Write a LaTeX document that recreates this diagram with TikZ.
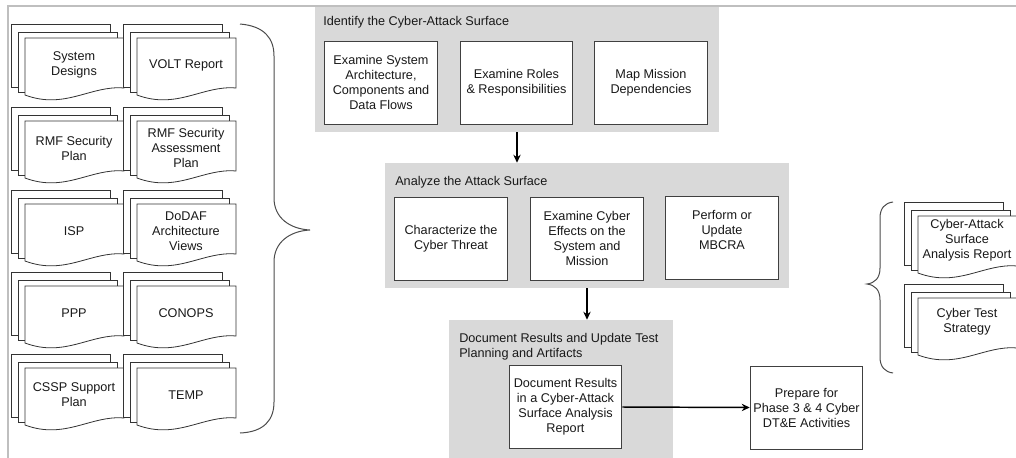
\documentclass[tikz,border=0pt]{standalone}
\usepackage{fontspec}
\setmainfont{Liberation Sans}
\usetikzlibrary{arrows.meta}

% Stack of three document sheets: #1 name of the text node, #2/#3 top-left
% corner of the rear sheet, #4 vertical offset of the text, #5 the text.
\newcommand{\docstack}[5]{%
  \draw[sheet] ({#2+7},{#3+63}) -- (#2,{#3+63}) -- (#2,#3) -- ({#2+99},#3) -- ({#2+99},{#3+8});
  \draw[sheet] ({#2+14},{#3+68}) -- ({#2+7},{#3+68}) -- ({#2+7},{#3+8}) -- ({#2+106},{#3+8}) -- ({#2+106},{#3+14});
  \draw[sheet] ({#2+14},{#3+14}) -- ({#2+113},{#3+14}) -- ({#2+113},{#3+64})
    .. controls ({#2+80},{#3+61}) and ({#2+54},{#3+86}) .. ({#2+14},{#3+71}) -- cycle;
  \node[doctext] (#1) at ({#2+63},{#3+14+#4}) {#5};
}

\begin{document}
\begin{tikzpicture}[x=0.75pt,y=-0.75pt,
  every node/.style={font=\fontsize{9.5}{11.25}\selectfont, text=black!90},
  panel/.style={fill=gray!30, draw=none, inner sep=0pt},
  stepbox/.style={draw=black!75, line width=0.75pt, fill=white,
    minimum width=84.4pt, minimum height=62.25pt, align=center, inner sep=0.5pt},
  doctext/.style={align=center, inner sep=0pt},
  sheet/.style={draw=black!80, line width=0.6pt, fill=white},
  flow/.style={draw=black, line width=1.1pt, -{Stealth[length=6pt,width=5.5pt]}},
  brace/.style={draw=black!70, line width=0.75pt},
  frameline/.style={draw=black!25, line width=1.5pt},
  paneltitle/.style={anchor=base west, inner sep=0pt}
]
\useasboundingbox (0,0) rectangle (1016,457);

% outer frame (top and left edges)
\draw[frameline] (8,458) -- (8,6) -- (1017,6);

% input documents
\docstack{designs}{11}{24}{27}{System\\Designs}
\docstack{volt}{123}{24}{27}{VOLT Report}
\docstack{rmfplan}{11}{107}{27}{RMF Security\\Plan}
\docstack{rmfassess}{123}{107}{27}{RMF Security\\Assessment\\Plan}
\docstack{isp}{11}{190}{27}{ISP}
\docstack{dodaf}{123}{190}{27}{DoDAF\\Architecture\\Views}
\docstack{ppp}{11}{272}{27}{PPP}
\docstack{conops}{123}{272}{27}{CONOPS}
\docstack{cssp}{11}{354}{27}{CSSP Support\\Plan}
\docstack{temp}{123}{354}{27}{TEMP}

% brace gathering the inputs
\draw[brace] (240,24) .. controls (264,26) and (274,38) .. (274,56) -- (274,198)
  .. controls (274,218) and (290,229) .. (310,230)
  .. controls (290,231) and (274,242) .. (274,262) -- (274,402)
  .. controls (274,420) and (264,432) .. (240,433);

% step 1
\node[panel, minimum width=303pt, minimum height=93.75pt] (surface) at (517,69.5) {};
\node[paneltitle] (surfacetitle) at (323,25) {Identify the Cyber-Attack Surface};
\node[stepbox] (arch) at (381,82.5) {Examine System\\Architecture,\\Components and\\Data Flows};
\node[stepbox] (roles) at (516.5,82.5) {Examine Roles\\\& Responsibilities};
\node[stepbox] (mission) at (651,82.5) {Map Mission\\Dependencies};

% step 2
\node[panel, minimum width=303pt, minimum height=93.75pt] (analyze) at (587,225.5) {};
\node[paneltitle] (analyzetitle) at (395,185) {Analyze the Attack Surface};
\node[stepbox] (threat) at (451,238.5) {Characterize the\\Cyber Threat};
\node[stepbox] (effects) at (587,238.5) {Examine Cyber\\Effects on the\\System and\\Mission};
\node[stepbox] (mbcra) at (722,237.5) {Perform or\\Update\\MBCRA\\\mbox{}};

% step 3
\node[panel, minimum width=168pt, minimum height=106.5pt] (results) at (561,391) {};
\node[paneltitle] (resultstitle) at (459,342) {Document Results and Update Test};
\node[paneltitle] (resultstitleb) at (459,357) {Planning and Artifacts};
\node[stepbox] (report) at (565.5,407) {Document Results\\in a Cyber-Attack\\Surface Analysis\\Report};

% next phase
\node[stepbox] (prepare) at (806.5,407.5) {Prepare for\\Phase 3 \& 4 Cyber\\DT\&E Activities};

% flow between steps
\draw[flow] (surface.south) -- (surface.south |- analyze.north);
\draw[flow] (analyze.south) -- (analyze.south |- results.north);
\draw[flow] (report.east) -- (prepare.west);

% outputs
\draw[brace] (893,202) .. controls (885,203) and (880,208) .. (880,218) -- (880,268)
  .. controls (880,278) and (875,283) .. (867,284)
  .. controls (875,285) and (880,290) .. (880,300) -- (880,357)
  .. controls (880,367) and (885,372) .. (893,373);
\docstack{casar}{904}{202}{24}{Cyber-Attack\\Surface\\Analysis Report}
\docstack{strategy}{904}{284}{24}{Cyber Test\\Strategy}
\end{tikzpicture}
\end{document}
